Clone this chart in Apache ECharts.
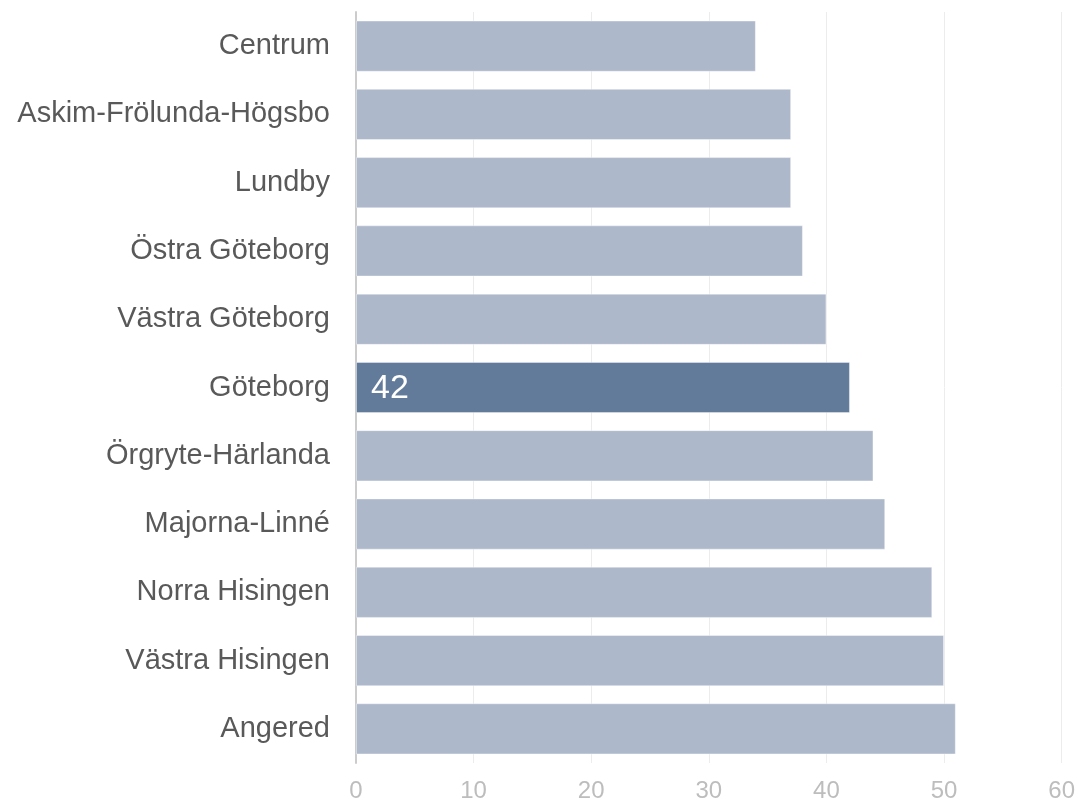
<!DOCTYPE html>
<html><head><meta charset="utf-8">
<script src="https://cdn.jsdelivr.net/npm/echarts@6/dist/echarts.min.js"></script>
<style>html,body{margin:0;padding:0;background:#fff}#c{width:1078px;height:803px}</style>
</head><body><div id="c"></div>
<script>
const categories = ["Centrum","Askim-Frölunda-Högsbo","Lundby","Östra Göteborg","Västra Göteborg","Göteborg","Örgryte-Härlanda","Majorna-Linné","Norra Hisingen","Västra Hisingen","Angered"];
const values = [34,37,37,38,40,42,44,45,49,50,51];
const highlight = "Göteborg";
const xTicks = [0,10,20,30,40,50,60];

const chart = echarts.init(document.getElementById('c'));
chart.setOption({
  animation:false,
  textStyle:{fontFamily:'Liberation Sans, Arial, sans-serif'},
  grid:{left:356,right:16,top:12,bottom:40,containLabel:false},
  xAxis:{type:'value',min:xTicks[0],max:xTicks[xTicks.length-1],interval:10,
    axisLine:{show:false},axisTick:{show:false},
    splitLine:{show:true,lineStyle:{color:'#ececec',width:1}},
    axisLabel:{color:'#bdbdbd',fontSize:24,margin:16,fontFamily:'Liberation Sans Narrow, Arial Narrow, sans-serif'}},
  yAxis:{type:'category',data:categories,inverse:true,
    axisLine:{show:true,lineStyle:{color:'#cccccc',width:2}},axisTick:{show:false},
    axisLabel:{color:'#595959',fontSize:29,margin:26}},
  series:[{type:'bar',barCategoryGap:'25%',
    data:values.map((v,i)=>({value:v,
      itemStyle:{color:categories[i]===highlight?'#637b9b':'#adb8ca'},
      label:{show:categories[i]===highlight,position:'insideLeft',color:'#fff',fontSize:34,offset:[10,1],formatter:'{c}'}})),
    itemStyle:{borderColor:'rgba(255,255,255,0.4)',borderWidth:1}
  }]
});
</script></body></html>
